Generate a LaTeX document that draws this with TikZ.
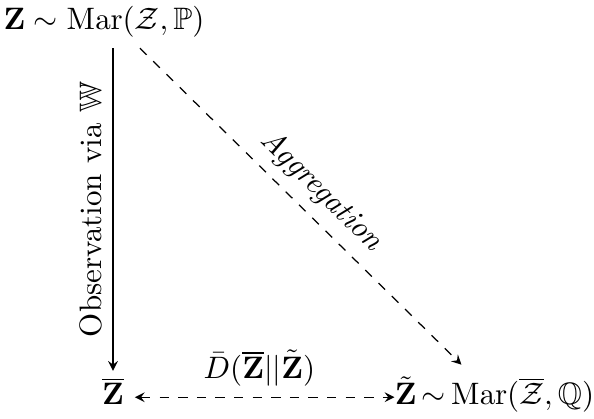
\documentclass[tikz,border=0pt]{standalone}
\usepackage{amsmath,amssymb}
\usetikzlibrary{arrows}
\begin{document}
\begin{tikzpicture}[x=0.3226pt,y=-0.3226pt, >=stealth,
  lbl/.style={text height=7.5pt, text depth=2.5pt, anchor=base}]
\useasboundingbox (0,0) rectangle (594,419);
\node[lbl] (top) at (104,29.5) {$\mathbf{Z}\sim\mathrm{Mar}(\mathcal{Z},\mathbb{P})$};
\node[lbl] (zbar) at (113,405) {$\overline{\mathbf{Z}}$};
\node[lbl] (ztil) at (494.5,405) {$\tilde{\mathbf{Z}}\mkern-2mu\sim\mkern-2mu\mathrm{Mar}(\overline{\mathcal{Z}},\mathbb{Q})$};
\draw[->] (top.south -| zbar) -- node[midway, rotate=90, anchor=south] {Observation via $\mathbb{W}$} (zbar);
\draw[->, dashed, shorten >=2.8pt] ([xshift=11.6pt]top.south) -- node[midway, above, sloped] {\textit{Aggregation}} (ztil);
\draw[<->, dashed, shorten >=-3.4pt] (zbar) -- node[above] {$\bar{D}(\overline{\mathbf{Z}}||\tilde{\mathbf{Z}})$} (ztil);
\end{tikzpicture}
\end{document}
